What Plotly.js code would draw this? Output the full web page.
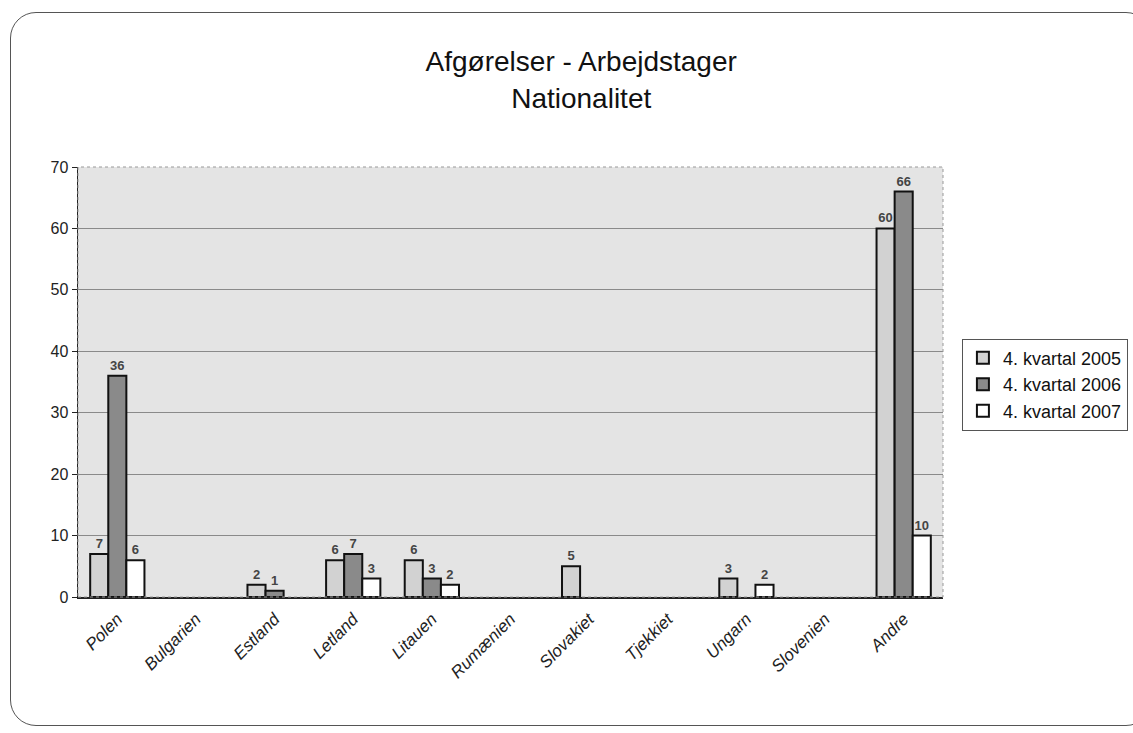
<!DOCTYPE html>
<html><head><meta charset="utf-8">
<script src="https://cdn.plot.ly/plotly-3.0.1.min.js"></script>
<style>
html,body{margin:0;padding:0;background:#fff;}
#wrap{position:absolute;left:0;top:0;width:1133px;height:733px;overflow:hidden;}
#frame{position:absolute;left:10px;top:12px;width:1140px;height:712px;border:1px solid #555;border-radius:26px;}
#chart{position:absolute;left:0;top:0;width:1133px;height:733px;}
</style></head>
<body><div id="wrap"><div id="frame"></div><div id="chart"></div></div>
<script>
const categories = ["Polen","Bulgarien","Estland","Letland","Litauen","Rumænien","Slovakiet","Tjekkiet","Ungarn","Slovenien","Andre"];
const seriesNames = ["4. kvartal 2005","4. kvartal 2006","4. kvartal 2007"];
const q4_2005 = [7, null, 2, 6, 6, null, 5, null, 3, null, 60];
const q4_2006 = [36, null, 1, 7, 3, null, null, null, null, null, 66];
const q4_2007 = [6, null, null, 3, 2, null, null, null, 2, null, 10];
const yTicks = [0,10,20,30,40,50,60,70];

const colors = ["#d2d2d2","#8a8a8a","#ffffff"];
const allSeries = [q4_2005, q4_2006, q4_2007];
const traces = allSeries.map((vals,i)=>({
  type:'bar', x:categories, y:vals, name:seriesNames[i],
  marker:{color:colors[i], line:{color:'#111', width:2}},
  text:vals.map(v=>v==null?'':'<b>'+v+'</b>'), textposition:'outside',
  textfont:{family:'Liberation Sans, Arial, sans-serif', size:13, color:'#444'},
  cliponaxis:false
}));

const layout = {
  width:1133, height:733,
  paper_bgcolor:'rgba(0,0,0,0)', plot_bgcolor:'#e4e4e4',
  margin:{l:78, r:190, t:167, b:136},
  barmode:'group', bargap:0.31, bargroupgap:0,
  title:{text:'Afgørelser - Arbejdstager<br>Nationalitet', x:0.513, xanchor:'center', y:0.903, yanchor:'top',
    font:{family:'Liberation Sans Narrow, Arial Narrow, Liberation Sans, sans-serif', size:28, color:'#111'}},
  font:{family:'Liberation Sans, Arial, sans-serif', color:'#111'},
  xaxis:{type:'category', tickangle:-45, showline:true, linecolor:'#222', linewidth:1.5,
    ticks:'', ticklabelstandoff:4, tickfont:{size:17, family:'Liberation Sans, Arial, sans-serif', color:'#222', style:'italic'}, mirror:false},
  yaxis:{range:[0,70], tickvals:yTicks, showline:true, linecolor:'#222', linewidth:1.5,
    ticks:'outside', ticklen:5, tickcolor:'#222', gridcolor:'#8a8a8a', gridwidth:1,
    tickfont:{size:16, color:'#222'}, zeroline:false},
  legend:{xref:'container', yref:'container', x:0.849, xanchor:'left', y:0.538, yanchor:'top', bgcolor:'#fff', bordercolor:'#555', borderwidth:1,
    font:{size:18, color:'#111'}, tracegroupgap:4, itemwidth:30},
  shapes:[{type:'rect', xref:'paper', yref:'paper', x0:0, x1:1, y0:0, y1:1, line:{color:'#999', width:1, dash:'dot'}}],
  showlegend:true
};
Plotly.newPlot('chart', traces, layout, {displayModeBar:false, staticPlot:true});
</script></body></html>
